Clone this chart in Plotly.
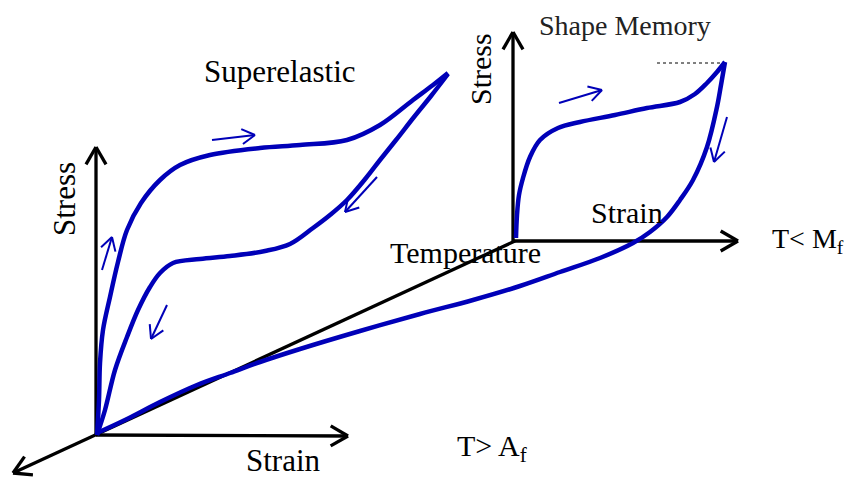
import numpy as np
import plotly.graph_objects as go

# --- superelastic loop (T > Af), pixel frame of the sketch ---
se_load_x = [97, 99, 100, 103, 110, 118, 127, 141, 160, 180, 210, 260, 300, 347, 380, 413, 433, 448]
se_load_y = [435, 400, 363, 330, 297, 262, 230, 203, 180, 165, 155, 148, 145, 140, 125, 100, 85, 73]
se_unload_x = [448, 431, 414, 396, 380, 366, 347, 330, 313, 290, 265, 230, 200, 173, 160, 150, 138, 127, 115, 105, 97]
se_unload_y = [74, 96, 117, 140, 160, 178, 200, 215, 228, 244, 251, 256, 259, 263, 273, 287, 310, 337, 370, 410, 435]

# --- shape memory loop (T < Mf) and recovery on heating ---
sm_load_x = [516, 517, 519, 523, 530, 540, 558, 580, 615, 647, 680, 695, 707, 717, 725]
sm_load_y = [238, 215, 195, 178, 157, 140, 128, 122, 115, 108, 102, 94, 83, 72, 62]
sm_recover_x = [725, 721, 717, 707, 693, 680, 667, 650, 633, 600, 560, 520, 473, 420, 360, 300, 260, 230, 197, 160, 125, 97]
sm_recover_y = [62, 85, 107, 147, 180, 200, 217, 232, 243, 258, 272, 286, 300, 314, 331, 349, 362, 373, 385, 402, 420, 433]

# axes: (start, tip)
axis_arrows = [
    ((96, 435), (96, 147)),     # stress, superelastic
    ((96, 435), (348, 436)),    # strain, superelastic
    ((515, 241), (13, 473)),    # temperature
    ((513, 241), (513, 32)),    # stress, shape memory
    ((513, 241), (738, 241)),   # strain, shape memory
]

# small direction arrows along the curves
dir_arrows = [
    ((102, 270), (112, 237)),
    ((212, 140), (255, 135)),
    ((377, 177), (345, 212)),
    ((167, 305), (151, 339)),
    ((559, 103), (602, 90)),
    ((727, 117), (714, 162)),
]

BLUE = "#0000b8"


def arrow_xy(p0, p1, head, ang=30):
    p0 = np.array(p0, float)
    p1 = np.array(p1, float)
    u = (p0 - p1) / np.linalg.norm(p0 - p1)
    xs, ys = [p0[0], p1[0], None], [p0[1], p1[1], None]
    for a in (ang, -ang):
        t = np.radians(a)
        r = np.array([u[0] * np.cos(t) - u[1] * np.sin(t), u[0] * np.sin(t) + u[1] * np.cos(t)])
        w = p1 + head * r
        xs += [p1[0], w[0], None]
        ys += [p1[1], w[1], None]
    return xs, ys


fig = go.Figure()

# black axes
ax_x, ax_y = [], []
for p0, p1 in axis_arrows:
    xs, ys = arrow_xy(p0, p1, 20)
    ax_x += xs
    ax_y += ys
fig.add_trace(go.Scatter(x=ax_x, y=ax_y, mode="lines",
                         line=dict(color="black", width=3.3), hoverinfo="skip"))

# clipped label remnant near the peak
fig.add_trace(go.Scatter(x=[657, 720], y=[63, 63], mode="lines",
                         line=dict(color="black", width=1, dash="3px,3px"), hoverinfo="skip"))

# curves
for cx, cy in [(se_load_x, se_load_y), (se_unload_x, se_unload_y),
               (sm_load_x, sm_load_y), (sm_recover_x, sm_recover_y)]:
    fig.add_trace(go.Scatter(x=cx, y=cy, mode="lines",
                             line=dict(color=BLUE, width=4.5, shape="spline", smoothing=1.0),
                             hoverinfo="skip"))

# direction arrows
d_x, d_y = [], []
for p0, p1 in dir_arrows:
    xs, ys = arrow_xy(p0, p1, 15)
    d_x += xs
    d_y += ys
fig.add_trace(go.Scatter(x=d_x, y=d_y, mode="lines",
                         line=dict(color=BLUE, width=2), hoverinfo="skip"))

labels = [
    ("Superelastic", 280, 71, 31, 0, "black"),
    ("Stress", 64, 199, 31, -90, "black"),
    ("Strain", 283, 460, 31, 0, "black"),
    ("T&gt; A<sub>f</sub>", 492, 448, 30, 0, "black"),
    ("Temperature", 465, 252, 30, 0, "black"),
    ("Strain", 627, 212, 30, 0, "black"),
    ("T&lt; M<sub>f</sub>", 808, 240, 28, 0, "black"),
    ("Shape Memory", 625, 25, 28, 0, "#222222"),
    ("Stress", 480, 69, 30, -90, "black"),
]
for txt, x, y, size, ang, col in labels:
    fig.add_annotation(x=x, y=y, text=txt, showarrow=False, textangle=ang,
                       xanchor="center", yanchor="middle",
                       font=dict(family="Liberation Serif", size=size, color=col))

# the page body keeps an 8px margin, so the data frame starts at 8
fig.update_layout(
    width=847, height=469,
    margin=dict(l=0, r=0, t=0, b=0),
    paper_bgcolor="white", plot_bgcolor="white",
    showlegend=False,
    xaxis=dict(range=[8, 855], visible=False, fixedrange=True),
    yaxis=dict(range=[477, 8], visible=False, fixedrange=True),
)

fig.write_html("out.html")
